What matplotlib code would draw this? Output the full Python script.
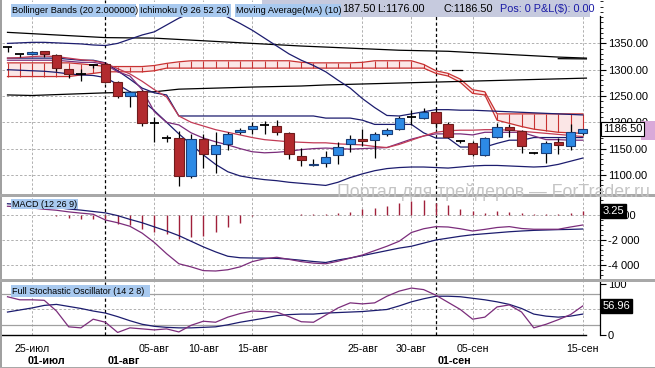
import matplotlib
matplotlib.use("Agg")
import matplotlib.pyplot as plt
import matplotlib.transforms as mtransforms
from matplotlib.patches import Rectangle
from matplotlib.ticker import FixedLocator, MultipleLocator, FixedFormatter

plt.rcParams['font.family'] = ['Liberation Sans', 'DejaVu Sans']

# ---------------- data (candle index 0..47 = 22-Jul .. 15-Sep) ----------------
opens  = [1344,1329,1330,1335.5,1327,1301,1292,1308,1310,1276,1250.5,1259,1198,1170,1170.5,1098,1168.5,1140.5,1159,1182,
          1187.5,1195,1192.5,1180,1136,1118,1123.5,1137,1159,1168,1166,1177,1188,1210,1208.5,1220,1197,1164.5,1161,1138,
          1172.5,1191,1183,1142,1142,1163,1155,1180.5]
highs  = [1346,1330,1335,1336,1329,1302,1301,1310,1314,1278,1259,1261,1210,1175,1183,1177,1177,1182,1182,1189.5,
          1201,1202,1204,1182,1151.5,1129.5,1145.5,1163,1175,1187.5,1182,1189.5,1211.5,1224,1227,1227,1200,1166,1164,1172,
          1199.5,1197,1185,1144,1164,1170.5,1197,1187.5]
lows   = [1334,1325,1328,1325,1298,1284,1279,1303,1275,1247,1230,1192.5,1163,1163,1078,1094,1114,1104.5,1146.5,1177,
          1178,1177,1175.5,1130,1117,1117,1115,1121.5,1143,1155,1133,1174,1185,1195,1206.5,1189.5,1169.5,1161,1136,1135,
          1169.5,1172,1142,1140,1123,1139,1147,1176]
closes = [1344,1329,1334,1330,1303,1291.5,1292,1308,1276,1250,1257,1199,1198,1170,1098,1167.5,1140.5,1157,1178,1186,
          1192.5,1195,1182,1139,1128,1121.5,1134,1153,1168,1165,1177,1186,1208.5,1210,1220,1199,1172,1164.5,1139,1170.5,
          1191,1184.5,1155,1142,1161,1156,1182,1186.5]

bb_upper = [1350,1351,1352,1352,1351,1350,1349,1347,1346,1350,1358,1366,1372,1385,1398,1408,1412,1410,1400,1388,
            1375,1360,1345,1330,1318,1308,1296,1280,1265,1245,1228,1213,1212,1216,1220,1224,1224,1223,1223,1222,
            1221,1220,1219,1218,1217,1216,1215,1214]
bb_lower = [1300,1299,1298,1297,1295,1292,1290,1289,1285,1272,1258,1242,1222,1200,1178,1158,1138,1120,1106,1098,
            1094,1091,1089,1086,1084,1082,1080,1086,1095,1102,1108,1112,1114,1115,1115,1114,1113,1115,1117,1118,
            1118,1117,1116,1115,1116,1120,1126,1132]
kijun = [1322,1322,1322,1322,1322,1320,1318,1318,1313,1298,1282,1265,1256,1252,1212,1212,1212,1212,1212,1212,
         1212,1212,1212,1212,1212,1212,1208,1208,1208,1204,1196,1196,1196,1196,1180,1170,1170,1153,1153,1153,
         1160,1166,1166,1171,1171,1171,1171,1171]
tenkan = [1318,1318,1318,1318,1318,1316,1314,1314,1310,1296,1288,1262,1220,1200,1195,1180,1170,1163,1157,1150,
          1144,1142,1143,1145,1148,1150,1151,1150,1149,1150,1151,1152,1160,1168,1174,1178,1178,1178,1176,1181,
          1181,1181,1181,1174,1167,1167,1166,1166]
ma10 = [1322,1323,1325,1326,1325,1322,1319,1317,1312,1302,1292,1278,1262,1248,1212,1200,1193,1186,1181,1176,
        1171,1167,1165,1163,1162,1161,1161,1159,1158,1157,1154,1152,1158,1166,1174,1181,1184,1185,1185,1186,
        1186,1185,1183,1181,1179,1177,1175,1173]
cloud_a = [1313,1313,1313,1313,1313,1313,1311,1309,1306,1306,1306,1306,1308,1312,1315,1317,1317,1317,1317,1317,
           1317,1317,1317,1317,1314,1313,1313,1313,1313,1314,1317,1317,1317,1317,1310,1298,1293,1282,1262,1258,
           1216,1216,1216,1216,1216,1216,1216,1216]
cloud_b = [1287,1287,1287,1287,1287,1287,1290,1293,1296,1296,1296,1296,1298,1303,1303,1303,1303,1303,1303,1303,
           1303,1303,1303,1303,1303,1303,1303,1303,1303,1303,1303,1303,1303,1303,1303,1293,1288,1276,1255,1252,
           1204,1198,1192,1187,1184,1181,1180,1179]
# long black lines: (candle index, price) readings
black_a_idx = [0, 8, 12, 20, 24, 32, 36, 45, 47.3]
black_a_val = [1371, 1361, 1360, 1350, 1345, 1337, 1335, 1324, 1322]
black_b_idx = [0, 2, 8, 12, 14, 20, 24, 26, 47.3]
black_b_val = [1252, 1251, 1256, 1258, 1263, 1267, 1269, 1271, 1284]
black_c_idx = [45, 47.3]
black_c_val = [1321, 1320.5]
black_d_idx = [36.3, 37.1]
black_d_val = [1299, 1299]

# MACD (axis units = value x 100)
macd = [700,650,560,460,380,250,150,60,-400,-620,-900,-1450,-2200,-3100,-3900,-4150,-4450,-4480,-4380,-4150,
        -3730,-3500,-3380,-3550,-3730,-3850,-3900,-3700,-3450,-3200,-2850,-2500,-2100,-1400,-1100,-930,-960,-1100,-1280,-1150,
        -1000,-930,-1080,-1140,-1140,-1140,-960,-800]
signal = [900,840,760,680,590,480,390,280,170,-50,-350,-620,-950,-1280,-1650,-2100,-2550,-2950,-3300,-3420,
          -3440,-3450,-3470,-3530,-3620,-3720,-3800,-3600,-3440,-3250,-3050,-2850,-2650,-2500,-2250,-2000,-1850,-1700,-1580,-1500,
          -1420,-1340,-1280,-1230,-1200,-1170,-1150,-1120]
hist = [0,0,0,0,-100,-210,-290,-290,-350,-690,-800,-1150,-1330,-1490,-1950,-1760,-1680,-1330,-960,-610,
        -80,0,0,0,50,60,80,160,240,480,560,720,960,1120,1200,960,800,480,320,160,
        320,240,160,80,80,80,160,325]

# Stochastic
stoch_k = [75,69,69,68,47,16,14,31,25,5,14,12,10,12,6,19,27,25,35,42,
           47,46,45,36,26,25,39,53,63,61,63,76,86,92,89,78,64,50,31,35,
           55,59,45,14,21,30,40,56.96]
stoch_d = [45,49,53,58,60,56,52,47,43,36,28,21,17,15,14,14,15,16,20,25,
           29,33,38,40,41,41,43,44,45,46,48,50,57,65,71,76,76,75,72,69,
           65,60,52,41,37,35,37,41]

grid_idx = [2, 12, 16, 20, 29, 33, 38, 47]
grid_labels = ['25-июл', '05-авг', '10-авг', '15-авг', '25-авг', '30-авг', '05-сен', '15-сен']
month_idx = [8, 35]
month_label_idx = [1.45, 8, 35]
month_labels = ['01-июл', '01-авг', '01-сен']
price_ticks = [1100, 1150, 1200, 1250, 1300, 1350]
macd_ticks = [-4000, -2000, 0]
macd_tick_labels = ['-4 000', '-2 000', '0 000']

# ---------------- figure ----------------
W, H = 655, 368
fig = plt.figure(figsize=(W / 100, H / 100), dpi=100)
fig.patch.set_facecolor('white')


def add_ax(x0, y0, x1, y1):
    return fig.add_axes([x0 / W, 1 - y1 / H, (x1 - x0) / W, (y1 - y0) / H])


def frect(x0, y0, x1, y1, color, z=5):
    fig.add_artist(Rectangle((x0 / W, 1 - y1 / H), (x1 - x0) / W, (y1 - y0) / H,
                             transform=fig.transFigure, fc=color, ec='none', zorder=z))


def ftext(x, y, s, size=6.7, color='black', weight='normal', ha='left', z=6):
    fig.text(x / W, 1 - y / H, s, fontsize=size, color=color, fontweight=weight,
             ha=ha, va='center', zorder=z)


XL = (-0.45, 48.41)
GRID = '#b0b0b0'
NAVY = '#1c1c6e'
PURPLE = '#7b2d7b'
MARED = '#c23b55'
CLOUD = '#c83232'

ax1 = add_ax(2, 0, 600, 194)
ax2 = add_ax(2, 197, 600, 279)
ax3 = add_ax(2, 282, 600, 335)

for ax in (ax1, ax2, ax3):
    ax.set_xlim(*XL)
    ax.set_facecolor('white')
    for s in ('top', 'left', 'bottom'):
        ax.spines[s].set_visible(False)
    ax.spines['right'].set_linewidth(0.9)
    ax.yaxis.tick_right()
    ax.tick_params(axis='y', which='major', direction='out', length=4, width=0.8,
                   labelsize=8, pad=1.5, colors='black')
    ax.tick_params(axis='y', which='minor', direction='out', length=2, width=0.6)
    ax.set_xticks([])
    for gi in grid_idx:
        ax.axvline(gi, color=GRID, lw=0.7, ls=(0, (2.5, 2)), zorder=0)
    for mi in month_idx:
        ax.axvline(mi, color='black', lw=0.9, ls=(0, (2.5, 2)), zorder=0)

# ---- main panel
ax1.set_ylim(1063.7, 1432.5)
ax1.yaxis.set_major_locator(FixedLocator(price_ticks))
ax1.yaxis.set_major_formatter(FixedFormatter([f'{v:.2f}' for v in price_ticks]))
ax1.yaxis.set_minor_locator(MultipleLocator(10))
ax1.spines['right'].set_bounds(1063.7, 1403)
for v in price_ticks:
    ax1.axhline(v, color=GRID, lw=0.7, ls=(0, (2.5, 2)), zorder=0)

n = len(closes)
idx = list(range(n))

# cloud
ax1.fill_between(idx, cloud_a, cloud_b, color='#fbe6e6', lw=0, zorder=1)
ax1.vlines(idx, cloud_b, cloud_a, color=CLOUD, lw=0.8, zorder=1.2)
ax1.plot(idx, cloud_a, color=CLOUD, lw=0.9, zorder=1.3)
ax1.plot(idx, cloud_b, color=CLOUD, lw=0.9, zorder=1.3)

# long black lines
ax1.plot(black_a_idx, black_a_val, color='black', lw=0.9, zorder=2)
ax1.plot(black_b_idx, black_b_val, color='black', lw=0.9, zorder=2)
ax1.plot(black_c_idx, black_c_val, color='black', lw=0.9, zorder=2)
ax1.plot(black_d_idx, black_d_val, color='black', lw=0.9, zorder=2)

# indicator lines
ax1.plot(idx, bb_upper, color=NAVY, lw=0.9, zorder=2)
ax1.plot(idx, bb_lower, color=NAVY, lw=0.9, zorder=2)
ax1.plot(idx, kijun, color=NAVY, lw=0.9, zorder=2)
ax1.plot(idx, tenkan, color=PURPLE, lw=0.9, zorder=2)
ax1.plot(idx, ma10, color=MARED, lw=0.9, zorder=2)

# candles
BW = 0.76
ax1.vlines(idx, lows, highs, color='black', lw=0.9, zorder=3)
for i in idx:
    o, c = opens[i], closes[i]
    if abs(c - o) < 0.01:
        ax1.hlines(o, i - BW / 2, i + BW / 2, color='black', lw=1.3, zorder=4)
        continue
    if c > o:
        fc, ec = '#2d8ae5', '#1b3f78'
    else:
        fc, ec = '#b22a2e', '#6e1c1c'
    ax1.add_patch(Rectangle((i - BW / 2, min(o, c)), BW, abs(c - o), fc=fc, ec=ec, lw=0.8, zorder=4))

# last price box
ax1.annotate(f'{closes[-1]:.2f}', xy=(1.0, closes[-1]), xycoords=('axes fraction', 'data'),
             xytext=(3, 0), textcoords='offset pixels', ha='left', va='center', fontsize=8,
             bbox=dict(boxstyle='square,pad=0.18', fc='white', ec='black', lw=0.8),
             annotation_clip=False, zorder=10)
pink = Rectangle((1.0686, closes[-1] - 20), 0.0234, 36,
                 transform=mtransforms.blended_transform_factory(ax1.transAxes, ax1.transData),
                 fc='#d9a9d9', ec='none', clip_on=False, zorder=9)
ax1.add_patch(pink)

# ---- MACD panel
ax2.set_ylim(-5120, 1440)
ax2.yaxis.set_major_locator(FixedLocator(macd_ticks))
ax2.yaxis.set_major_formatter(FixedFormatter(macd_tick_labels))
ax2.yaxis.set_minor_locator(MultipleLocator(400))
for v in macd_ticks:
    ax2.axhline(v, color=GRID, lw=0.7, ls=(0, (2.5, 2)), zorder=0)
ax2.vlines(idx, 0, hist, color='#a0203a', lw=1.0, zorder=2)
ax2.plot(idx, signal, color=NAVY, lw=0.9, zorder=3)
ax2.plot(idx, macd, color=PURPLE, lw=0.9, zorder=3)
ax2.annotate(f'{hist[-1] / 100:.2f}', xy=(1.0, hist[-1]), xycoords=('axes fraction', 'data'),
             xytext=(3, 0), textcoords='offset pixels', ha='left', va='center', fontsize=8,
             color='white', bbox=dict(boxstyle='square,pad=0.15', fc='black', ec='black'),
             annotation_clip=False, zorder=10)

# ---- Stochastic panel
ax3.set_ylim(0, 103.9)
ax3.yaxis.set_major_locator(FixedLocator([0, 100]))
ax3.yaxis.set_major_formatter(FixedFormatter(['0', '100']))
ax3.axhline(80, color='#a0a0a0', lw=0.9, zorder=0)
ax3.axhline(20, color='#a0a0a0', lw=0.9, zorder=0)
ax3.axhline(50, color=GRID, lw=0.7, ls=(0, (2.5, 2)), zorder=0)
ax3.spines['bottom'].set_visible(True)
ax3.spines['bottom'].set_linewidth(1.0)
ax3.spines['bottom'].set_bounds(XL[0], 47.3)
ax3.plot(idx, stoch_d, color=NAVY, lw=0.9, zorder=3)
ax3.plot(idx, stoch_k, color=PURPLE, lw=0.9, zorder=3)
ax3.annotate(f'{stoch_k[-1]:.2f}', xy=(1.0, stoch_k[-1]), xycoords=('axes fraction', 'data'),
             xytext=(3, 0), textcoords='offset pixels', ha='left', va='center', fontsize=8,
             color='white', bbox=dict(boxstyle='square,pad=0.15', fc='black', ec='black'),
             annotation_clip=False, zorder=10)

for gi, lab in zip(grid_idx, grid_labels):
    ax3.annotate(lab, xy=(gi, 0), xycoords=('data', 'axes fraction'), xytext=(0, -14),
                 textcoords='offset pixels', ha='center', va='center', fontsize=7.7,
                 annotation_clip=False)
for mi, lab in zip(month_label_idx, month_labels):
    ax3.annotate(lab, xy=(mi, 0), xycoords=('data', 'axes fraction'), xytext=(2, -26),
                 textcoords='offset pixels', ha='left', va='center', fontsize=7.7,
                 fontweight='bold', annotation_clip=False)

# ---- frame, separators, header labels
frect(0, 0, 1.5, 368, '#a0a0a0')
frect(0, 194, 655, 197, '#a8a8a8')
frect(0, 279, 655, 282, '#a8a8a8')
frect(0, 366.5, 655, 368, '#a8a8a8')

LBL = '#a8c9ef'
frect(262, 0, 590, 17, '#c6cade')
frect(11, 4, 136, 16.5, LBL, z=6)
ftext(12, 10.3, 'Bollinger Bands (20 2.000000)', z=7)
frect(139, 4, 231, 16.5, LBL, z=6)
ftext(140, 10.3, 'Ichimoku (9 26 52 26)', z=7)
frect(235, 4, 341, 16.5, LBL, z=6)
ftext(236, 10.3, 'Moving Average(MA) (10)', z=7)
ftext(342, 9.5, '187.50', size=7.8, z=7)
ftext(377, 9.5, 'L:1176.00', size=7.8, z=7)
ftext(443, 9.5, 'C:1186.50', size=7.8, z=7)
ftext(500, 9.5, 'Pos: 0 P&L($): 0.00', size=7.8, color='#1a1aa6', z=7)

frect(11, 199.5, 78, 209.5, LBL, z=6)
ftext(12, 204.5, 'MACD (12 26 9)', size=6.5, z=7)
frect(11, 285, 150, 297, LBL, z=6)
ftext(12, 291, 'Full Stochastic Oscillator (14 2 8)', size=6.5, z=7)

ftext(337, 192, 'Портал для трейдеров — ForTrader.ru', size=12.8, color='#c4c4c4', z=8)

fig.savefig('out.png', dpi=100, facecolor='white')
